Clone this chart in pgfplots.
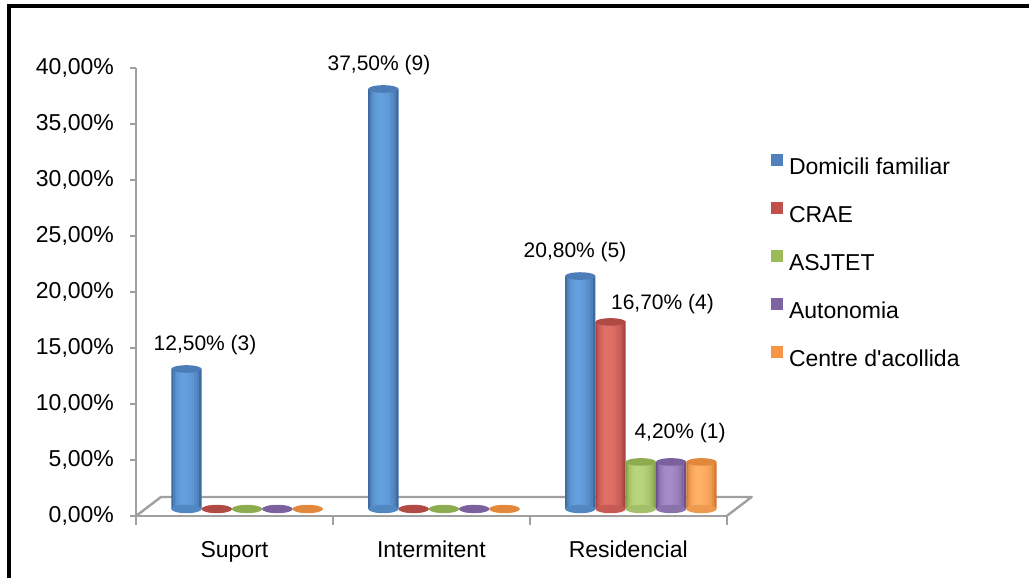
\documentclass[border=0pt]{standalone}
\usepackage{fontspec}
\setmainfont{Liberation Sans}
\usepackage{pgfplots}
\usepackage{pgfplotstable}
\pgfplotsset{compat=1.18}

% frame and legend colours
\definecolor{axgray}{RGB}{160,160,160}
\definecolor{lgBlue}{HTML}{4F81BD}
\definecolor{lgRed}{HTML}{C0504D}
\definecolor{lgGreen}{HTML}{9BBB59}
\definecolor{lgPurple}{HTML}{8064A2}
\definecolor{lgOrange}{HTML}{F79646}
% cylinder body shading (edge / highlight) and cap colours
\definecolor{bBlueD}{HTML}{3D6AA0}\definecolor{bBlueL}{HTML}{64A0DE}\definecolor{cBlue}{HTML}{4C7DB9}
\definecolor{bRedD}{HTML}{A6433F}\definecolor{bRedL}{HTML}{E06F67}\definecolor{cRed}{HTML}{B04A45}
\definecolor{bGreenD}{HTML}{86A34C}\definecolor{bGreenL}{HTML}{BAD67D}\definecolor{cGreen}{HTML}{8DAC50}
\definecolor{bPurpleD}{HTML}{6A528D}\definecolor{bPurpleL}{HTML}{A58CC8}\definecolor{cPurple}{HTML}{7A619D}
\definecolor{bOrangeD}{HTML}{D67A31}\definecolor{bOrangeL}{HTML}{FFB266}\definecolor{cOrange}{HTML}{E2883C}

% elliptic caps of the cylinders
\pgfdeclareplotmark{cyltop}{\pgfpathellipse{\pgfpointorigin}{\pgfqpoint{7.575pt}{0pt}}{\pgfqpoint{0pt}{1.9pt}}\pgfusepathqfill}
\pgfdeclareplotmark{cylbot}{\pgfpathellipse{\pgfpointorigin}{\pgfqpoint{7.575pt}{0pt}}{\pgfqpoint{0pt}{2.1pt}}\pgfusepathqfill}

\pgfplotstableread{
x y
0 12.5
1 37.5
2 20.8
}\tDom
\pgfplotstableread{
x y
0 0
1 0
2 16.7
}\tCrae
\pgfplotstableread{
x y
0 0
1 0
2 4.2
}\tAsj
\pgfplotstableread{
x y
0 0
1 0
2 4.2
}\tAut
\pgfplotstableread{
x y
0 0
1 0
2 4.2
}\tCen
\pgfplotstableread{
x y dx dy label
0 12.5 -21.0 11.75 {12,50\% (3)}
1 37.5 -32.5 11.75 {37,50\% (9)}
2 20.8 -32.9 11.75 {20,80\% (5)}
2 16.7 10.8 9.0 {16,70\% (4)}
2 4.2 19.6 14.25 {4,20\% (1)}
}\tLab

% one body layer: #1 table, #2 series offset (pt), #3 layer width, #4 layer offset, #5 colour
\newcommand{\cyllayer}[5]{%
  \addplot[ybar, bar width=#3pt, bar shift={#2pt+#4pt}, draw=none, fill=#5]
    table[x=x, y=y] {#1};
}
% one cylinder series: bottom rim, body shaded in nested layers, top cap
% #1 table, #2 offset, #3 edge colour, #4 highlight colour, #5 cap colour
\newcommand{\cylseries}[5]{%
  \addplot[only marks, mark=cylbot, color=#4!55!#3, mark options={xshift=#2pt}]
    table[x=x, y expr=0] {#1};
  \cyllayer{#1}{#2}{15.15}{0}{#3}
  \cyllayer{#1}{#2}{13.13}{-0.202}{#4!40!#3}
  \cyllayer{#1}{#2}{11.11}{-0.404}{#4!62!#3}
  \cyllayer{#1}{#2}{9.09}{-0.606}{#4!78!#3}
  \cyllayer{#1}{#2}{7.07}{-0.808}{#4!88!#3}
  \cyllayer{#1}{#2}{5.05}{-1.01}{#4!95!#3}
  \cyllayer{#1}{#2}{3.03}{-1.212}{#4}
  \addplot[only marks, mark=cyltop, color=#5, mark options={xshift=#2pt}]
    table[x=x, y=y] {#1};
}

\begin{document}
\begin{tikzpicture}
\useasboundingbox (0,0) rectangle (514.5pt,289pt);
\fill[white] (0,0) rectangle (514.5pt,289pt);

% value axis, categories, floor and legend
\begin{axis}[
  at={(68pt,31pt)}, anchor=south west,
  scale only axis, width=295.35pt, height=224pt,
  xmin=-0.5, xmax=2.5, ymin=0, ymax=40,
  axis lines*=left,
  axis line style={draw=axgray, line width=1.2pt},
  xtick={0,1,2}, xticklabels={Suport,Intermitent,Residencial},
  minor xtick={-0.5,0.5,1.5,2.5},
  ytick={0,5,10,15,20,25,30,35,40},
  yticklabels={{0,00\%},{5,00\%},{10,00\%},{15,00\%},{20,00\%},{25,00\%},{30,00\%},{35,00\%},{40,00\%}},
  tick align=outside, major tick length=3pt, minor tick length=4.5pt,
  tick style={draw=axgray, line width=1pt},
  major x tick style={draw=none},
  tick label style={font=\fontsize{11.5}{13.8}\selectfont, text=black},
  yticklabel style={xshift=-4.5pt},
  xticklabel style={yshift=-6pt},
  clip=false,
  legend cell align=left,
  legend image code/.code={\fill[#1, draw=none] (0pt,1.1pt) rectangle (6pt,7.1pt);},
  legend style={at={(axis description cs:1.075,0.808)}, anchor=north west,
    draw=none, fill=none, inner sep=0pt, outer sep=0pt, row sep=11.45pt,
    font=\fontsize{11.5}{13.8}\selectfont,
    nodes={inner sep=0pt, text height=8.5pt, text depth=2.5pt},
    /tikz/every odd column/.append style={column sep=3pt}},
]
\draw[axgray, line width=1.2pt, line join=round]
  (axis cs:-0.5,0) -- ([shift={(12.5pt,9.5pt)}]axis cs:-0.5,0)
  -- ([shift={(12.5pt,9.5pt)}]axis cs:2.5,0) -- (axis cs:2.5,0);
\addlegendimage{fill=lgBlue}\addlegendentry{Domicili familiar}
\addlegendimage{fill=lgRed}\addlegendentry{CRAE}
\addlegendimage{fill=lgGreen}\addlegendentry{ASJTET}
\addlegendimage{fill=lgPurple}\addlegendentry{Autonomia}
\addlegendimage{fill=lgOrange}\addlegendentry{Centre d\textquotesingle{}acollida}
\end{axis}

% cylinders, set half-way into the floor depth
\begin{axis}[
  at={(74.3pt,34.5pt)}, anchor=south west,
  scale only axis, width=295.35pt, height=224pt,
  xmin=-0.5, xmax=2.5, ymin=0, ymax=40,
  hide axis, clip=false,
]
\cylseries{\tDom}{-30.3}{bBlueD}{bBlueL}{cBlue}
\cylseries{\tCrae}{-15.15}{bRedD}{bRedL}{cRed}
\cylseries{\tAsj}{0}{bGreenD}{bGreenL}{cGreen}
\cylseries{\tAut}{15.15}{bPurpleD}{bPurpleL}{cPurple}
\cylseries{\tCen}{30.3}{bOrangeD}{bOrangeL}{cOrange}
\addplot[draw=none, mark=none, nodes near coords, point meta=explicit symbolic,
  visualization depends on={\thisrow{dx}\as\labdx},
  visualization depends on={\thisrow{dy}\as\labdy},
  nodes near coords style={anchor=center, xshift=\labdx pt, yshift=\labdy pt,
    font=\fontsize{10.5}{12.6}\selectfont, text=black, inner sep=0pt}]
  table[x=x, y=y, meta=label] {\tLab};
\end{axis}

% chart border
\draw[black, line width=1.6pt] (4.5pt,-10pt) -- (4.5pt,286pt) -- (530pt,286pt);
\end{tikzpicture}
\end{document}
